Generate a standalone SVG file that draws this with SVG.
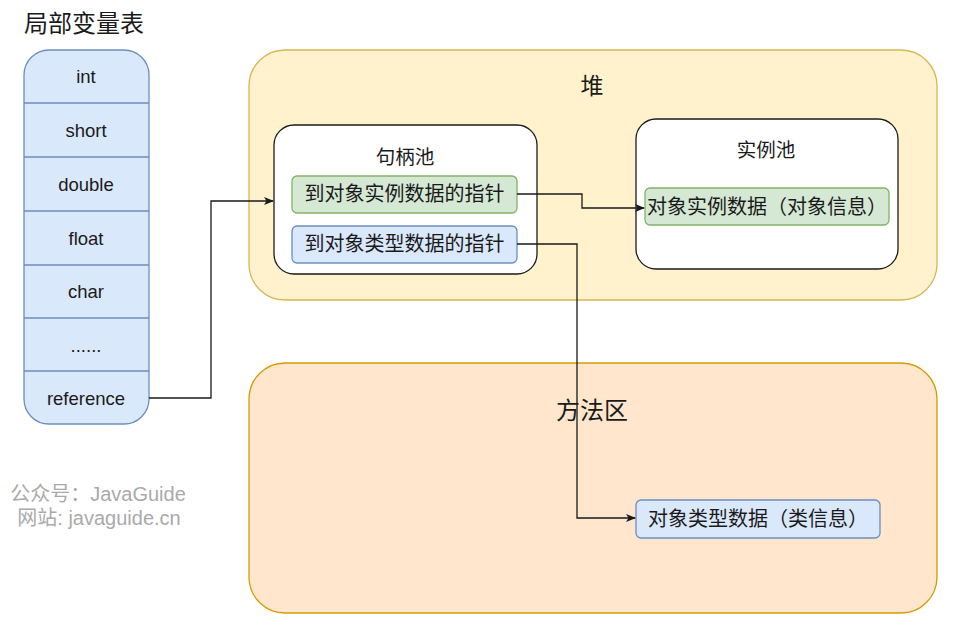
<svg xmlns="http://www.w3.org/2000/svg" width="971" height="644" viewBox="0 0 971 644">
<style>
.cjk{font-family:"Noto Sans CJK SC","Liberation Sans",sans-serif;fill:#1a1a1a}
.lat{font-family:"Liberation Sans",Arial,sans-serif;fill:#1a1a1a;font-size:18.5px;text-anchor:middle}
.wm{font-family:"Liberation Sans","Noto Sans CJK SC",sans-serif;fill:#aaaaaa;font-size:20px;text-anchor:middle}
.blue{fill:#dae8fc;stroke:#6c8ebf;stroke-width:1.3}
.green{fill:#d5e8d4;stroke:#82b366;stroke-width:1.3}
.pool{fill:#ffffff;stroke:#1a1a1a;stroke-width:1.3}
.conn{fill:none;stroke:#1a1a1a;stroke-width:1.3}
</style>
<defs>
<marker id="arr" viewBox="0 0 10 10" refX="9" refY="5" markerWidth="10" markerHeight="10" markerUnits="userSpaceOnUse" orient="auto">
<path d="M0,1 L10,5 L0,9 L2.5,5 Z" fill="#1a1a1a"/>
</marker>
</defs>
<rect width="971" height="644" fill="#ffffff"/>

<g id="title">
<text class="cjk" x="24" y="32" font-size="24">局部变量表</text>
</g>

<g id="local-var-table">
<path class="blue" d="M49,50 H124 A25,25 0 0 1 149,75 V399 A25,25 0 0 1 124,424 H49 A25,25 0 0 1 24,399 V75 A25,25 0 0 1 49,50 Z"/>
<g stroke="#6c8ebf" stroke-width="1.3">
<line x1="24" y1="103" x2="149" y2="103"/>
<line x1="24" y1="157" x2="149" y2="157"/>
<line x1="24" y1="211" x2="149" y2="211"/>
<line x1="24" y1="265" x2="149" y2="265"/>
<line x1="24" y1="318" x2="149" y2="318"/>
<line x1="24" y1="371" x2="149" y2="371"/>
</g>
<text class="lat" x="86" y="83">int</text>
<text class="lat" x="86" y="137">short</text>
<text class="lat" x="86" y="191">double</text>
<text class="lat" x="86" y="245">float</text>
<text class="lat" x="86" y="298">char</text>
<text class="lat" x="86" y="352">......</text>
<text class="lat" x="86" y="405">reference</text>
</g>

<g id="heap">
<rect x="249" y="50" width="688" height="250" rx="36" ry="36" fill="#fff2cc" stroke="#d6b656" stroke-width="1.3"/>
<text class="cjk" x="592" y="94" font-size="23" text-anchor="middle">堆</text>
</g>

<g id="method-area">
<rect x="249" y="363" width="688" height="250" rx="36" ry="36" fill="#ffe6cc" stroke="#d79b00" stroke-width="1.3"/>
<text class="cjk" x="592" y="419" font-size="24" text-anchor="middle">方法区</text>
</g>

<g id="handle-pool">
<rect class="pool" x="274" y="125" width="263" height="149" rx="20" ry="20"/>
<text class="cjk" x="405" y="164" font-size="19.5" text-anchor="middle">句柄池</text>
</g>

<g id="ptr-instance">
<rect class="green" x="292" y="176" width="225" height="37" rx="5" ry="5"/>
<text class="cjk" x="404.5" y="201" font-size="20" text-anchor="middle">到对象实例数据的指针</text>
</g>

<g id="ptr-type">
<rect class="blue" x="292" y="226" width="225" height="37" rx="5" ry="5"/>
<text class="cjk" x="404.5" y="251" font-size="20" text-anchor="middle">到对象类型数据的指针</text>
</g>

<g id="instance-pool">
<rect class="pool" x="636" y="119" width="262" height="150" rx="20" ry="20"/>
<text class="cjk" x="766" y="157" font-size="19.5" text-anchor="middle">实例池</text>
</g>

<g id="instance-data">
<rect class="green" x="645" y="188" width="244" height="37" rx="5" ry="5"/>
<text class="cjk" x="647" y="214" font-size="20">对象实例数据（对象信息）</text>
</g>

<g id="type-data">
<rect class="blue" x="636" y="500" width="244" height="38" rx="5" ry="5"/>
<text class="cjk" x="648" y="526" font-size="20">对象类型数据（类信息）</text>
</g>

<g id="watermark">
<text class="wm" x="98" y="501">公众号：JavaGuide</text>
<text class="wm" x="99" y="525">网站: javaguide.cn</text>
</g>

<g id="connectors">
<polyline class="conn" points="149,398 211,398 211,201 273,201" marker-end="url(#arr)"/>
<polyline class="conn" points="517,194 582,194 582,208 644,208" marker-end="url(#arr)"/>
<polyline class="conn" points="517,244 577,244 577,518 635,518" marker-end="url(#arr)"/>
</g>
</svg>
